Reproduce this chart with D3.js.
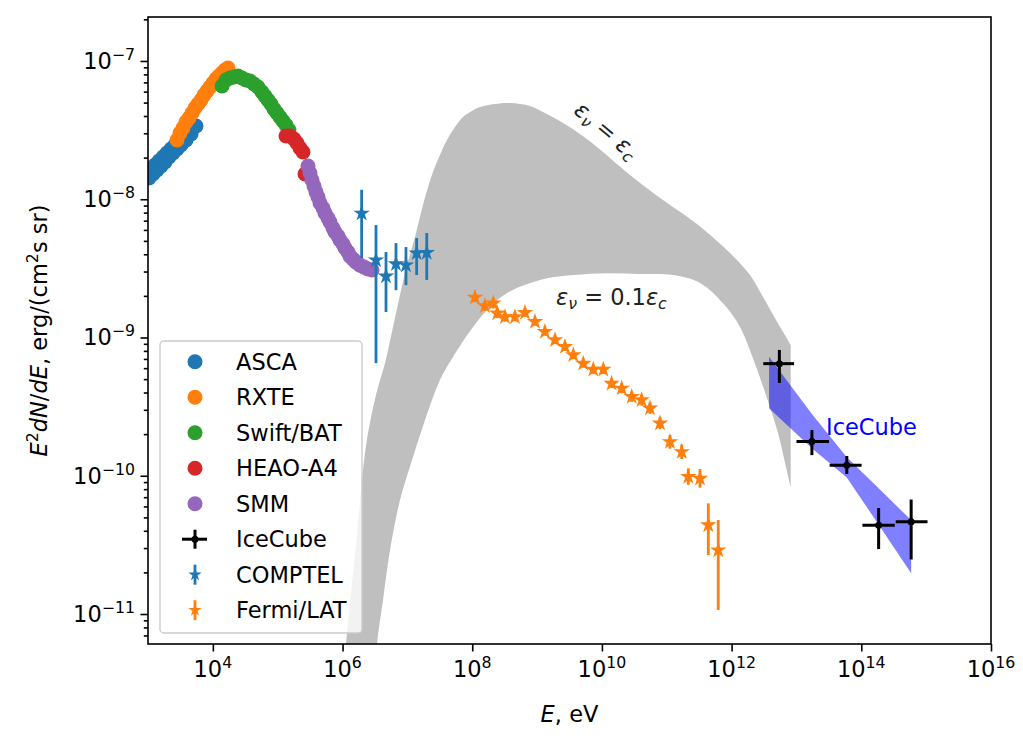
<!DOCTYPE html>
<html>
<head>
<meta charset="utf-8">
<script src="https://cdn.jsdelivr.net/npm/d3@7/dist/d3.min.js"></script>
<style>
  body { margin: 0; background: #fff; }
  svg { font-family: "DejaVu Sans", sans-serif; }
</style>
</head>
<body>
<svg width="1023" height="736"></svg>
<script>
// values: E in eV, E^2 dN/dE in erg/(cm^2 s sr)

var ascaE = [1.036e3, 1.112e3, 1.194e3, 1.282e3, 1.377e3, 1.478e3, 1.587e3, 1.704e3, 1.829e3, 1.963e3, 2.108e3, 2.263e3,
             2.430e3, 2.609e3, 2.801e3, 3.006e3, 3.228e3, 3.465e3, 3.855e3, 4.139e3, 4.604e3, 4.942e3, 5.497e3];
var ascaF = [1.423e-8, 1.627e-8, 1.522e-8, 1.768e-8, 1.627e-8, 1.890e-8, 1.738e-8, 2.020e-8, 1.859e-8, 2.159e-8, 2.020e-8, 2.308e-8,
             2.159e-8, 2.466e-8, 2.308e-8, 2.636e-8, 2.466e-8, 2.818e-8, 2.681e-8, 3.012e-8, 2.962e-8, 3.274e-8, 3.385e-8];

var rxteE = [2.801e3, 3.114e3, 3.465e3, 3.855e3, 4.288e3, 4.769e3, 5.305e3, 5.902e3, 6.566e3, 7.303e3, 8.125e3, 9.036e3,
             1.005e4, 1.118e4, 1.244e4, 1.384e4, 1.540e4, 1.713e4];
var rxteF = [2.681e-8, 3.012e-8, 3.274e-8, 3.618e-8, 3.867e-8, 4.203e-8, 4.568e-8, 4.882e-8, 5.218e-8, 5.673e-8, 6.063e-8, 6.480e-8,
             6.927e-8, 7.404e-8, 7.783e-8, 8.182e-8, 8.601e-8, 8.893e-8];

var swiftE = [1.384e4, 1.595e4, 1.839e4, 2.119e4, 2.443e4, 2.815e4, 3.245e4, 3.741e4, 4.311e4, 4.969e4, 5.728e4, 6.372e4,
              7.086e4, 7.884e4, 8.770e4, 9.754e4, 1.085e5, 1.207e5, 1.343e5, 1.494e5];
var swiftF = [6.589e-8, 7.282e-8, 7.529e-8, 7.656e-8, 7.783e-8, 7.529e-8, 7.282e-8, 7.162e-8, 6.812e-8, 6.480e-8, 5.963e-8, 5.580e-8,
              5.218e-8, 4.882e-8, 4.492e-8, 4.203e-8, 3.932e-8, 3.678e-8, 3.441e-8, 3.166e-8];

var heaoE = [1.343e5, 1.548e5, 1.784e5, 1.984e5, 2.208e5, 2.456e5, 2.636e5];
var heaoF = [2.865e-8, 2.865e-8, 2.725e-8, 2.550e-8, 2.346e-8, 2.195e-8, 1.522e-8];

var smmE = [2.933e5, 3.149e5, 3.380e5, 3.629e5, 3.896e5, 4.183e5, 4.491e5, 4.995e5, 5.363e5, 5.966e5, 6.405e5, 7.125e5, 7.650e5,
            8.509e5, 9.135e5, 1.016e6, 1.091e6, 1.213e6, 1.303e6, 1.449e6, 1.612e6, 1.858e6, 2.142e6, 2.469e6, 2.846e6];
var smmF = [1.738e-8, 1.547e-8, 1.377e-8, 1.246e-8, 1.128e-8, 1.038e-8, 9.389e-9, 8.64e-9, 7.95e-9, 7.31e-9, 6.84e-9, 6.19e-9, 5.79e-9,
            5.42e-9, 5.07e-9, 4.74e-9, 4.44e-9, 4.15e-9, 3.88e-9, 3.69e-9, 3.51e-9, 3.34e-9, 3.23e-9, 3.13e-9, 3.08e-9];

var comptelE  = [1.97e6, 3.28e6, 4.68e6, 6.67e6, 9.51e6, 1.39e7, 1.99e7];
var comptelF  = [7.91e-9, 3.63e-9, 2.78e-9, 3.40e-9, 3.34e-9, 4.08e-9, 4.10e-9];
var comptelLo = [3.76e-9, 6.53e-10, 1.53e-9, 2.20e-9, 2.39e-9, 2.83e-9, 2.61e-9];
var comptelHi = [1.17e-8, 6.50e-9, 4.15e-9, 4.82e-9, 4.51e-9, 5.24e-9, 5.70e-9];

var fermiE  = [1.10e8, 1.57e8, 2.11e8, 2.43e8, 3.20e8, 4.56e8, 6.50e8, 9.28e8, 1.32e9, 1.89e9, 2.69e9, 3.62e9, 5.16e9, 7.36e9,
               1.05e10, 1.41e10, 2.02e10, 2.88e10, 4.10e10, 5.51e10, 7.86e10, 1.12e11, 1.70e11, 2.15e11, 3.25e11, 4.37e11, 6.22e11];
var fermiF  = [1.95e-9, 1.69e-9, 1.77e-9, 1.50e-9, 1.41e-9, 1.41e-9, 1.51e-9, 1.30e-9, 1.10e-9, 9.59e-10, 8.58e-10, 7.47e-10, 6.50e-10, 5.88e-10,
               5.88e-10, 4.66e-10, 4.29e-10, 3.73e-10, 3.53e-10, 3.08e-10, 2.40e-10, 1.76e-10, 1.49e-10, 9.84e-11, 9.57e-11, 4.40e-11, 2.90e-11];
var fermiLo = [1.80e-9, 1.56e-9, 1.62e-9, 1.38e-9, 1.30e-9, 1.31e-9, 1.41e-9, 1.22e-9, 1.03e-9, 8.95e-10, 8.00e-10, 6.95e-10, 6.05e-10, 5.45e-10,
               5.44e-10, 4.30e-10, 3.95e-10, 3.42e-10, 3.22e-10, 2.80e-10, 2.17e-10, 1.57e-10, 1.32e-10, 8.60e-11, 8.20e-11, 2.67e-11, 1.07e-11];
var fermiHi = [2.10e-9, 1.83e-9, 1.93e-9, 1.63e-9, 1.53e-9, 1.52e-9, 1.62e-9, 1.39e-9, 1.18e-9, 1.03e-9, 9.20e-10, 8.02e-10, 6.98e-10, 6.34e-10,
               6.35e-10, 5.05e-10, 4.66e-10, 4.07e-10, 3.87e-10, 3.39e-10, 2.65e-10, 1.97e-10, 1.68e-10, 1.13e-10, 1.12e-10, 6.31e-11, 4.79e-11];

var icE   = [5.45e12, 1.73e13, 5.97e13, 1.85e14, 5.87e14];
var icElo = [3.08e12, 1.00e13, 3.25e13, 1.04e14, 3.40e14];
var icEhi = [9.18e12, 3.17e13, 1.01e14, 3.28e14, 1.05e15];
var icF   = [6.47e-10, 1.77e-10, 1.19e-10, 4.39e-11, 4.64e-11];
var icFlo = [4.69e-10, 1.41e-10, 1.03e-10, 2.95e-11, 2.48e-11];
var icFhi = [8.13e-10, 2.14e-10, 1.39e-10, 5.84e-11, 6.73e-11];

// IceCube fit band
var icBandE  = [3.78e12, 1.73e13, 5.97e13, 1.97e14, 5.87e14];
var icBandHi = [7.26e-10, 2.80e-10, 1.36e-10, 7.88e-11, 4.78e-11];
var icBandLo = [3.08e-10, 1.58e-10, 9.73e-11, 4.24e-11, 1.97e-11];

// model band: eps_nu = eps_c (upper edge) and eps_nu = 0.1 eps_c (lower edge)
var modelUpE = [9.46e5, 1.13e6, 1.61e6, 2.30e6, 3.28e6, 4.52e6, 6.00e6, 7.69e6, 9.86e6, 1.31e7, 1.74e7, 2.39e7, 3.18e7, 4.08e7,
                5.42e7, 7.20e7, 9.91e7, 1.32e8, 2.24e8, 3.82e8, 7.78e8, 1.32e9, 2.51e9, 4.58e9, 8.39e9, 2.71e10, 8.74e10,
                2.92e11, 9.44e11, 1.92e12, 3.05e12, 4.67e12, 6.66e12, 8.15e12];
var modelUpF = [2.39e-12, 6.07e-12, 3.16e-11, 1.64e-10, 3.84e-10, 6.53e-10, 1.19e-9, 2.03e-9, 3.34e-9, 5.33e-9, 9.08e-9, 1.50e-8, 2.09e-8, 2.68e-8,
                3.33e-8, 3.94e-8, 4.35e-8, 4.65e-8, 4.89e-8, 4.97e-8, 4.72e-8, 4.20e-8, 3.56e-8, 2.96e-8, 2.39e-8, 1.50e-8, 9.86e-9,
                6.62e-9, 4.08e-9, 2.83e-9, 1.96e-9, 1.38e-9, 1.04e-9, 8.81e-10];
var modelLoE = [3.05e6, 3.40e6, 4.21e6, 5.40e6, 7.69e6, 1.18e7, 1.87e7, 3.18e7, 5.05e7, 1.03e8, 1.88e8, 3.44e8, 1.11e9,
                3.58e9, 1.20e10, 3.86e10, 1.25e11, 3.25e11, 7.36e11, 1.35e12, 2.21e12, 3.51e12, 5.19e12, 6.89e12, 8.15e12];
var modelLoF = [2.39e-12, 6.07e-12, 1.26e-11, 2.90e-11, 6.67e-11, 1.30e-10, 2.53e-10, 4.92e-10, 7.23e-10, 1.19e-9, 1.66e-9, 2.10e-9, 2.61e-9,
                2.83e-9, 2.92e-9, 2.88e-9, 2.83e-9, 2.48e-9, 1.77e-9, 1.19e-9, 6.76e-10, 3.65e-10, 2.04e-10, 1.16e-10, 8.22e-11];

// tick exponents
var xTickExp = [4, 6, 8, 10, 12, 14, 16];
var yTickExp = [-11, -10, -9, -8, -7];

var legendNames = ["ASCA", "RXTE", "Swift/BAT", "HEAO-A4", "SMM", "IceCube", "COMPTEL", "Fermi/LAT"];

var svg = d3.select("svg");

// plot box in pixels (note: "top" is taken by window.top)
var pLeft = 148, pRight = 991, pTop = 17, pBottom = 644;
var fs = 22.5;

var x = d3.scaleLog().domain([1e3, 1e16]).range([pLeft, pRight]);
var y = d3.scaleLog().domain([6.07e-12, 2.08e-7]).range([pBottom, pTop]);

var colors = {
    blue: "#1f77b4", orange: "#ff7f0e", green: "#2ca02c", red: "#d62728", purple: "#9467bd"
};

svg.append("defs").append("clipPath").attr("id", "plotClip")
    .append("rect").attr("x", pLeft).attr("y", pTop)
    .attr("width", pRight - pLeft).attr("height", pBottom - pTop);

var plot = svg.append("g").attr("clip-path", "url(#plotClip)");

// grey model band
var curve = d3.line().curve(d3.curveCatmullRom);
var upPts = modelUpE.map(function (e, i) { return [x(e), y(modelUpF[i])]; });
var loPts = modelLoE.map(function (e, i) { return [x(e), y(modelLoF[i])]; }).reverse();
plot.append("path")
    .attr("d", curve(upPts) + "L" + curve(loPts).slice(1) + "Z")
    .attr("fill", "#bfbfbf");

// IceCube band
var straight = d3.line();
var bandTop = icBandE.map(function (e, i) { return [x(e), y(icBandHi[i])]; });
var bandBot = icBandE.map(function (e, i) { return [x(e), y(icBandLo[i])]; }).reverse();
plot.append("path")
    .attr("d", straight(bandTop) + "L" + straight(bandBot).slice(1) + "Z")
    .attr("fill", "blue")
    .attr("fill-opacity", 0.5);

// scatter series
function scatter(es, fv, color) {
    plot.append("g").selectAll("circle")
        .data(es)
        .enter().append("circle")
        .attr("cx", function (d) { return x(d); })
        .attr("cy", function (d, i) { return y(fv[i]); })
        .attr("r", 7.5)
        .attr("fill", color);
}
scatter(ascaE, ascaF, colors.blue);
scatter(rxteE, rxteF, colors.orange);
scatter(swiftE, swiftF, colors.green);
scatter(heaoE, heaoF, colors.red);
scatter(smmE, smmF, colors.purple);

var star = d3.symbol().type(d3.symbolStar).size(85);

// errorbar series with star markers
function starErrors(es, f, lo, hi, color) {
    var g = plot.append("g");
    g.selectAll("line")
        .data(es)
        .enter().append("line")
        .attr("x1", function (d) { return x(d); })
        .attr("x2", function (d) { return x(d); })
        .attr("y1", function (d, i) { return y(lo[i]); })
        .attr("y2", function (d, i) { return y(hi[i]); })
        .attr("stroke", color)
        .attr("stroke-width", 2.8);
    g.selectAll("path")
        .data(es)
        .enter().append("path")
        .attr("d", star)
        .attr("transform", function (d, i) { return "translate(" + x(d) + "," + y(f[i]) + ")"; })
        .attr("fill", color);
}
starErrors(comptelE, comptelF, comptelLo, comptelHi, colors.blue);
starErrors(fermiE, fermiF, fermiLo, fermiHi, colors.orange);

// IceCube points
var ic = plot.append("g");
ic.selectAll(".ex")
    .data(icE)
    .enter().append("line")
    .attr("x1", function (d, i) { return x(icElo[i]); })
    .attr("x2", function (d, i) { return x(icEhi[i]); })
    .attr("y1", function (d, i) { return y(icF[i]); })
    .attr("y2", function (d, i) { return y(icF[i]); })
    .attr("stroke", "black").attr("stroke-width", 3);
ic.selectAll(".ey")
    .data(icE)
    .enter().append("line")
    .attr("x1", function (d) { return x(d); })
    .attr("x2", function (d) { return x(d); })
    .attr("y1", function (d, i) { return y(icFlo[i]); })
    .attr("y2", function (d, i) { return y(icFhi[i]); })
    .attr("stroke", "black").attr("stroke-width", 3);
ic.selectAll("circle")
    .data(icE)
    .enter().append("circle")
    .attr("cx", function (d) { return x(d); })
    .attr("cy", function (d, i) { return y(icF[i]); })
    .attr("r", 3.5)
    .attr("fill", "black");

// axes
svg.append("g")
    .attr("transform", "translate(0," + pBottom + ")")
    .call(d3.axisBottom(x)
        .tickValues(xTickExp.map(function (e) { return Math.pow(10, e); }))
        .tickSize(7.5).tickFormat(""));

var yMinor = [];
for (var e = -12; e <= -7; e++) {
    for (var m = 2; m <= 9; m++) {
        var v = m * Math.pow(10, e);
        if (v >= y.domain()[0] && v <= y.domain()[1]) yMinor.push(v);
    }
}
svg.append("g")
    .attr("transform", "translate(" + pLeft + ",0)")
    .call(d3.axisLeft(y)
        .tickValues(yTickExp.map(function (e) { return Math.pow(10, e); }))
        .tickSize(7.5).tickFormat(""));
svg.append("g")
    .attr("transform", "translate(" + pLeft + ",0)")
    .call(d3.axisLeft(y).tickValues(yMinor).tickSize(4.2).tickFormat(""));

svg.selectAll(".domain").remove();
svg.selectAll(".tick line").attr("stroke", "black").attr("stroke-width", 1.6);

// power-of-ten label: "10" with raised exponent
function powLabel(text, exp) {
    text.append("tspan").text("10");
    text.append("tspan")
        .attr("font-size", fs * 0.7)
        .attr("dy", -9)
        .text(exp < 0 ? "\u2212" + Math.abs(exp) : exp);
}

xTickExp.forEach(function (e) {
    var t = svg.append("text")
        .attr("x", x(Math.pow(10, e)))
        .attr("y", 677)
        .attr("text-anchor", "middle")
        .attr("font-size", fs);
    powLabel(t, e);
});

yTickExp.forEach(function (e) {
    var t = svg.append("text")
        .attr("x", 135)
        .attr("y", y(Math.pow(10, e)) + 8)
        .attr("text-anchor", "end")
        .attr("font-size", fs);
    powLabel(t, e);
});

// frame
svg.append("rect")
    .attr("x", pLeft).attr("y", pTop)
    .attr("width", pRight - pLeft).attr("height", pBottom - pTop)
    .attr("fill", "none").attr("stroke", "black").attr("stroke-width", 1.6);

// axis titles
var xl = svg.append("text")
    .attr("x", (pLeft + pRight) / 2).attr("y", 722)
    .attr("text-anchor", "middle").attr("font-size", fs);
xl.append("tspan").attr("font-style", "italic").text("E");
xl.append("tspan").text(", eV");

var yl = svg.append("text")
    .attr("transform", "translate(47," + (pTop + pBottom) / 2 + ") rotate(-90)")
    .attr("text-anchor", "middle").attr("font-size", fs);
yl.append("tspan").attr("font-style", "italic").text("E");
yl.append("tspan").attr("font-size", fs * 0.7).attr("dy", -9).text("2");
yl.append("tspan").attr("font-style", "italic").attr("dy", 9).text("dN");
yl.append("tspan").text("/");
yl.append("tspan").attr("font-style", "italic").text("dE");
yl.append("tspan").text(", erg/(cm");
yl.append("tspan").attr("font-size", fs * 0.7).attr("dy", -9).text("2");
yl.append("tspan").attr("dy", 9).text("s sr)");

// eps labels
function epsLabel(text, middle) {
    text.append("tspan").attr("font-style", "italic").text("\u03b5");
    text.append("tspan").attr("font-style", "italic").attr("font-size", fs * 0.7).attr("dy", 4).text("\u03bd");
    text.append("tspan").attr("dy", -4).text(" = " + middle);
    text.append("tspan").attr("font-style", "italic").text("\u03b5");
    text.append("tspan").attr("font-style", "italic").attr("font-size", fs * 0.7).attr("dy", 4).text("c");
}
var lab1 = svg.append("text")
    .attr("transform", "translate(606,131) rotate(40)")
    .attr("text-anchor", "middle").attr("dy", 7)
    .attr("font-size", fs).attr("fill", "#222");
epsLabel(lab1, "");
var lab2 = svg.append("text")
    .attr("x", 556).attr("y", 305)
    .attr("font-size", fs).attr("fill", "#222");
epsLabel(lab2, "0.1");

svg.append("text")
    .attr("x", 826).attr("y", 435)
    .attr("font-size", fs)
    .attr("fill", "blue")
    .text("IceCube");

// legend
var lg = svg.append("g");
lg.append("rect")
    .attr("x", 160).attr("y", 341).attr("width", 202).attr("height", 292)
    .attr("rx", 4)
    .attr("fill", "white").attr("fill-opacity", 0.8)
    .attr("stroke", "#cccccc").attr("stroke-width", 1.4);

var legendColors = [colors.blue, colors.orange, colors.green, colors.red, colors.purple, "black", colors.blue, colors.orange];
var smallStar = d3.symbol().type(d3.symbolStar).size(55);

legendNames.forEach(function (name, i) {
    var cy = 361.7 + i * 35.5;
    var c = legendColors[i];
    if (i < 5) {
        lg.append("circle").attr("cx", 195).attr("cy", cy).attr("r", 7.5).attr("fill", c);
    } else if (name === "IceCube") {
        lg.append("line").attr("x1", 182).attr("x2", 207).attr("y1", cy).attr("y2", cy)
            .attr("stroke", c).attr("stroke-width", 3);
        lg.append("line").attr("x1", 195).attr("x2", 195).attr("y1", cy - 9.5).attr("y2", cy + 9.5)
            .attr("stroke", c).attr("stroke-width", 3);
        lg.append("circle").attr("cx", 195).attr("cy", cy).attr("r", 3.5).attr("fill", c);
    } else {
        lg.append("line").attr("x1", 195).attr("x2", 195).attr("y1", cy - 10).attr("y2", cy + 10)
            .attr("stroke", c).attr("stroke-width", 2.8);
        lg.append("path").attr("d", smallStar).attr("transform", "translate(195," + cy + ")").attr("fill", c);
    }
    lg.append("text")
        .attr("x", 236).attr("y", cy + 8)
        .attr("font-size", fs)
        .text(name);
});
</script>
</body>
</html>
